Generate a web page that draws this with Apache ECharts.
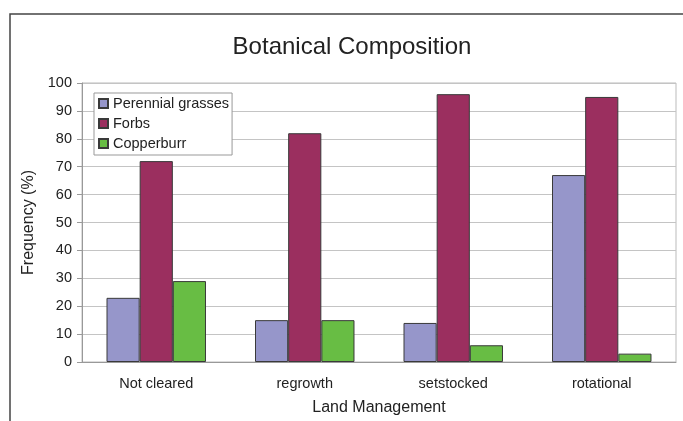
<!DOCTYPE html>
<html><head><meta charset="utf-8">
<script src="https://cdn.jsdelivr.net/npm/echarts@6/dist/echarts.min.js"></script>
<style>html,body{margin:0;padding:0;background:#fff}#c{width:683px;height:421px}</style>
</head><body><div id="c"></div>
<script>
const categories = ['Not cleared', 'regrowth', 'setstocked', 'rotational'];
const perennialGrasses = [23, 15, 14, 67];
const forbs = [72, 82, 96, 95];
const copperburr = [29, 15, 6, 3];
const yTicks = [0, 10, 20, 30, 40, 50, 60, 70, 80, 90, 100];

const font = '"Liberation Sans", Arial, sans-serif';
const chart = echarts.init(document.getElementById('c'));
const barStyle = c => ({ color: c, borderColor: '#3a3a3a', borderWidth: 1 });
chart.setOption({
  animation: false,
  graphic: [{ type: 'rect', shape: { x: 10, y: 14, width: 700, height: 430 }, style: { fill: 'none', stroke: '#444', lineWidth: 1.5 }, z: -1 }],
  title: { text: 'Botanical Composition', left: 347, top: 30, textAlign: 'center',
    textStyle: { fontFamily: font, fontSize: 24, fontWeight: 'normal', color: '#222' } },
  legend: { orient: 'vertical', left: 94, top: 93, padding: [3, 3, 4, 4], itemGap: 5,
    itemWidth: 9, itemHeight: 9, borderColor: '#999', borderWidth: 1, backgroundColor: '#fff',
    textStyle: { fontFamily: font, fontSize: 14.5, color: '#222', lineHeight: 15 }, icon: 'rect', z: 10 },
  grid: { left: 82, right: 7, top: 83, bottom: 59, show: true, borderColor: '#bbb', borderWidth: 1,
    containLabel: false, outerBoundsMode: 'none' },
  xAxis: { type: 'category', data: categories, name: 'Land Management', nameLocation: 'middle', nameGap: 38,
    nameTextStyle: { fontFamily: font, fontSize: 16, color: '#222' },
    axisLine: { lineStyle: { color: '#999' } }, axisTick: { lineStyle: { color: '#999' }, length: 4 },
    axisLabel: { fontFamily: font, fontSize: 14.5, color: '#222', margin: 14 } },
  yAxis: { type: 'value', min: 0, max: 100, interval: 10, name: 'Frequency (%)', nameLocation: 'middle', nameGap: 42,
    nameTextStyle: { fontFamily: font, fontSize: 16, color: '#222' },
    axisLine: { show: true, lineStyle: { color: '#999' } }, axisTick: { show: true, length: 5, lineStyle: { color: '#999' } },
    splitLine: { lineStyle: { color: '#c4c4c4' } },
    axisLabel: { fontFamily: font, fontSize: 14.5, color: '#222', margin: 10,
      formatter: v => yTicks.includes(v) ? String(v) : '' } },
  series: [
    { name: 'Perennial grasses', type: 'bar', data: perennialGrasses, itemStyle: barStyle('#9696ca'), barGap: '0%', barCategoryGap: '33%' },
    { name: 'Forbs', type: 'bar', data: forbs, itemStyle: barStyle('#9b2f5f') },
    { name: 'Copperburr', type: 'bar', data: copperburr, itemStyle: barStyle('#68bd44') }
  ]
});
</script></body></html>
